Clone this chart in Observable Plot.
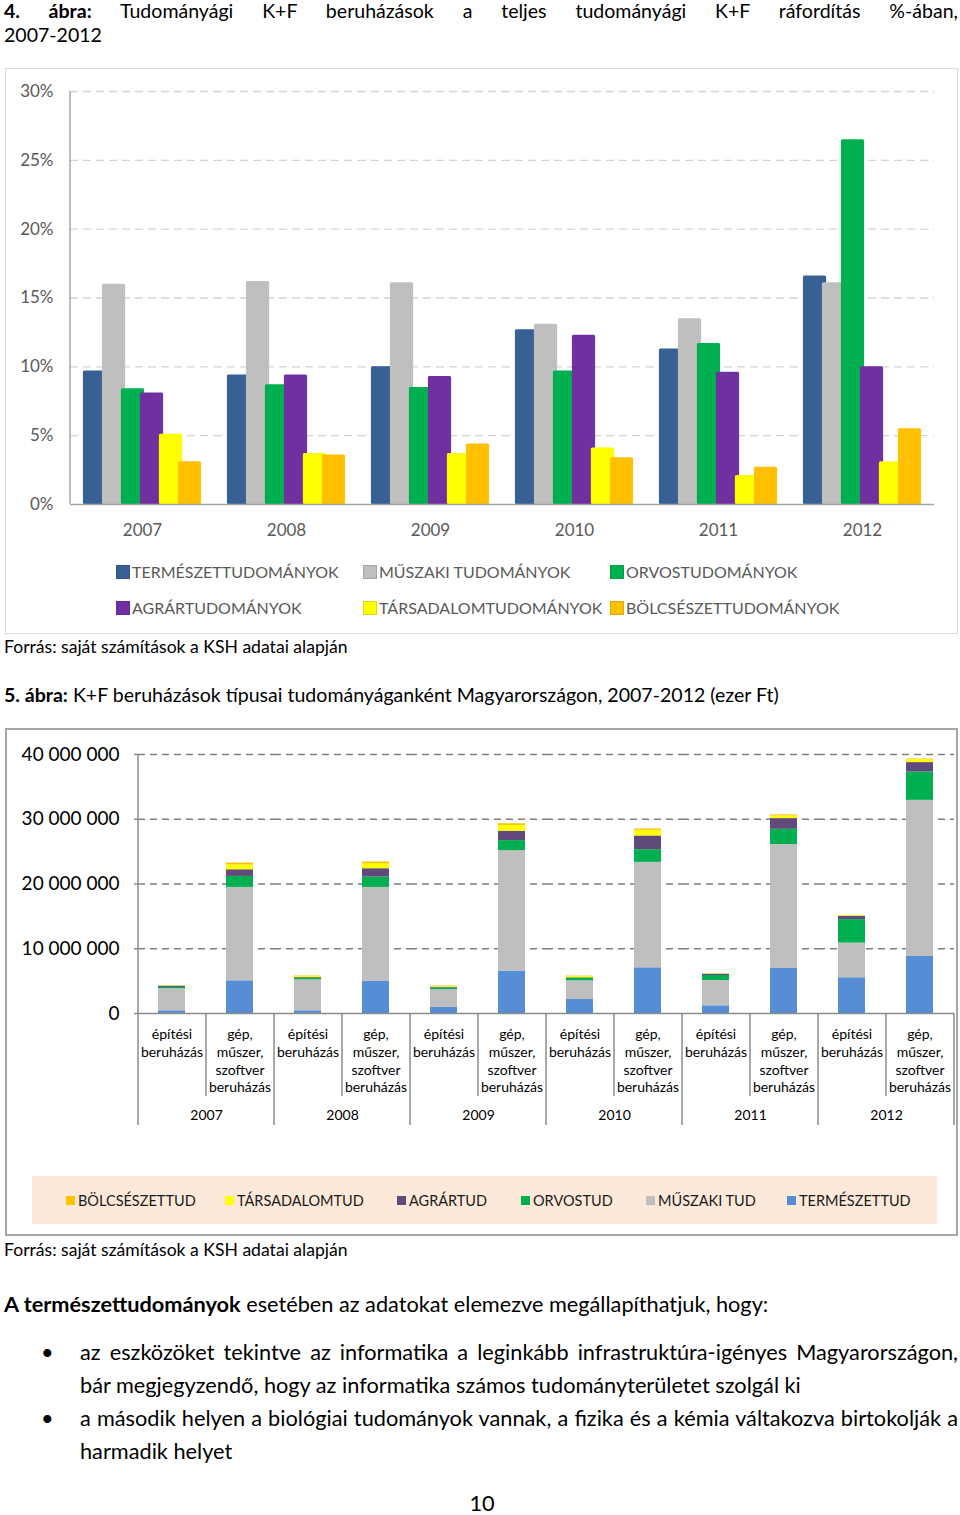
<!DOCTYPE html>
<html><head><meta charset="utf-8">
<script src="https://cdn.jsdelivr.net/npm/d3@7"></script>
<script src="https://cdn.jsdelivr.net/npm/@observablehq/plot@0.6"></script>
<style>
body{margin:0;background:#fff;}
#page{position:relative;width:960px;height:1515px;font-family:Lato,"Open Sans",sans-serif;color:#000;overflow:hidden;}
.abs{position:absolute;white-space:nowrap;}
.jl{text-align:justify;text-align-last:justify;white-space:normal;}
.sq{display:inline-block;vertical-align:middle;box-sizing:border-box;}
</style></head>
<body><div id="page"></div>
<script>
// ---------- DATA: chart 4 (percent) ----------
const years = ["2007","2008","2009","2010","2011","2012"];
const fields1 = ["TERMÉSZETTUDOMÁNYOK","MŰSZAKI TUDOMÁNYOK","ORVOSTUDOMÁNYOK","AGRÁRTUDOMÁNYOK","TÁRSADALOMTUDOMÁNYOK","BÖLCSÉSZETTUDOMÁNYOK"];
const colors1 = ["#376095","#bfbfbf","#00b050","#7030a0","#ffff00","#ffc000"];
const pctTermeszet  = [9.7, 9.4, 10.0, 12.7, 11.3, 16.6];
const pctMuszaki    = [16.0, 16.2, 16.1, 13.1, 13.5, 16.1];
const pctOrvos      = [8.4, 8.7, 8.5, 9.7, 11.7, 26.5];
const pctAgrar      = [8.1, 9.4, 9.3, 12.3, 9.6, 10.0];
const pctTarsadalom = [5.1, 3.7, 3.7, 4.1, 2.1, 3.1];
const pctBolcsesz   = [3.1, 3.6, 4.4, 3.4, 2.7, 5.5];
const yTicks1 = [0,5,10,15,20,25,30];

// ---------- DATA: chart 5 (ezer Ft) ----------
const types = ["építési beruházás","gép, műszer, szoftver beruházás"];
const typeLabels = ["építési\nberuházás","gép,\nműszer,\nszoftver\nberuházás"];
const fields2 = ["TERMÉSZETTUD","MŰSZAKI TUD","ORVOSTUD","AGRÁRTUD","TÁRSADALOMTUD","BÖLCSÉSZETTUD"];
const colors2 = ["#558ed5","#bfbfbf","#00b050","#604a7b","#ffff00","#ffc000"];
const legend2Order = ["BÖLCSÉSZETTUD","TÁRSADALOMTUD","AGRÁRTUD","ORVOSTUD","MŰSZAKI TUD","TERMÉSZETTUD"];
// order: 2007 építési, 2007 gép, 2008 építési, 2008 gép, ...
const invTermeszet  = [420000, 5050000, 420000, 4950000, 930000, 6550000, 2160000, 7060000, 1190000, 6960000, 5520000, 8810000];
const invMuszaki    = [3400000, 14420000, 4780000, 14520000, 2770000, 18600000, 2890000, 16280000, 3910000, 19140000, 5350000, 24110000];
const invOrvos      = [200000, 1700000, 250000, 1600000, 250000, 1550000, 420000, 1960000, 770000, 2350000, 3630000, 4380000];
const invAgrar      = [200000, 1030000, 100000, 1290000, 110000, 1450000, 50000, 2120000, 200000, 1650000, 500000, 1450000];
const invTarsadalom = [50000, 750000, 200000, 800000, 150000, 900000, 200000, 880000, 50000, 420000, 100000, 450000];
const invBolcsesz   = [20000, 280000, 60000, 230000, 50000, 250000, 60000, 200000, 20000, 150000, 50000, 100000];
const yTicks2 = [0, 10000000, 20000000, 30000000, 40000000];

// ---------- TEXT ----------
const title1a = "<b>4. ábra:</b> Tudományági K+F beruházások a teljes tudományági K+F ráfordítás %-ában,";
const title1b = "2007-2012";
const title2 = "<b>5. ábra:</b> K+F beruházások típusai tudományáganként Magyarországon, 2007-2012 (ezer Ft)";
const source = "Forrás: saját számítások a KSH adatai alapján";
const para = "<b>A természettudományok</b> esetében az adatokat elemezve megállapíthatjuk, hogy:";
const bullet1a = "az eszközöket tekintve az informatika a leginkább infrastruktúra-igényes Magyarországon,";
const bullet1b = "bár megjegyzendő, hogy az informatika számos tudományterületet szolgál ki";
const bullet2a = "a második helyen a biológiai tudományok vannak, a fizika és a kémia váltakozva birtokolják a";
const bullet2b = "harmadik helyet";
const pageNo = "10";

// ---------- helpers ----------
const page = document.getElementById("page");
function measure(html, size){
  const s=document.createElement("span");
  s.style.cssText=`position:absolute;visibility:hidden;white-space:nowrap;font-family:Lato;font-size:${size}px`;
  s.innerHTML=html; document.body.appendChild(s);
  const w=s.getBoundingClientRect().width; s.remove(); return w;
}
function addText(html, o){
  const d=document.createElement("div");
  d.className="abs"+(o.justify?" jl":"");
  const lh=o.lh||Math.round(o.size*1.3);
  d.style.left=o.left+"px"; d.style.top=(o.cy-lh/2)+"px";
  d.style.fontSize=o.size+"px"; d.style.lineHeight=lh+"px";
  if(o.width) d.style.width=o.width+"px";
  if(o.color) d.style.color=o.color;
  if(o.align) d.style.textAlign=o.align;
  d.innerHTML=html; page.appendChild(d); return d;
}
const titleSize = 19*775/measure(title2,19);
const srcSize = 17*344/measure(source,17);
const bodySize = 20*765/measure(para,20);

addText(title1a,{left:4,cy:10,size:titleSize,width:954,justify:true});
addText(title1b,{left:4,cy:34,size:titleSize});

// chart 1 box
const box1=document.createElement("div");
box1.style.cssText="position:absolute;left:5px;top:68px;width:953px;height:566px;box-sizing:border-box;border:1px solid #d9d9d9;";
page.appendChild(box1);

// ---------- chart 1 ----------
const series1=[pctTermeszet,pctMuszaki,pctOrvos,pctAgrar,pctTarsadalom,pctBolcsesz];
const data1=[];
fields1.forEach((f,i)=>years.forEach((y,j)=>data1.push({year:y,field:f,value:series1[i][j]})));
const chart1=Plot.plot({
  width:960,height:480,marginLeft:70,marginRight:26,marginTop:23,marginBottom:44,
  style:{fontFamily:"Lato",background:"transparent",overflow:"visible"},
  fx:{domain:years,padding:0,label:null},
  x:{domain:fields1,paddingInner:0,paddingOuter:0.77,axis:null},
  y:{domain:[0,30],label:null},
  color:{domain:fields1,range:colors1},
  marks:[
    Plot.gridY(yTicks1.slice(1),{stroke:"#d4d4d4",strokeOpacity:1,strokeDasharray:"8,5",strokeWidth:1.3}),
    Plot.axisY(yTicks1,{tickSize:0,tickPadding:17,tickFormat:d=>d+"%",fontSize:17,fill:"#595959",label:null}),
    Plot.barY(data1,{fx:"year",x:"field",y:"value",fill:"field",insetLeft:-2.1,insetRight:-2.1,rx:1.5}),
    Plot.ruleY([0],{stroke:"#a6a6a6",strokeWidth:1.5}),
    Plot.axisFx({anchor:"bottom",tickSize:0,tickPadding:19,fontSize:17,fill:"#595959",label:null})
  ]
});
chart1.style.position="absolute";chart1.style.left="0px";chart1.style.top="68px";
page.appendChild(chart1);
{
  const fxS=chart1.scale("fx"), yS=chart1.scale("y");
  d3.select(chart1).append("line")
    .attr("x1",fxS.apply(years[0])).attr("x2",fxS.apply(years[0]))
    .attr("y1",yS.apply(30)).attr("y2",yS.apply(0))
    .attr("stroke","#a6a6a6").attr("stroke-width",1.5);
}
// legend 1
const leg1cols=[116,363,610], leg1rows=[571,607];
fields1.forEach((f,i)=>{
  const c=colors1[i];
  const border=d3.color(c).darker(0.4).formatHex();
  addText(`<span class="sq" style="width:14px;height:14px;background:${c};border:1px solid ${border};margin-right:2px;margin-top:-2px"></span>${f}`,
    {left:leg1cols[i%3],cy:leg1rows[Math.floor(i/3)],size:16,color:"#595959"});
});
addText(source,{left:4,cy:646,size:srcSize});
addText(title2,{left:4,cy:694,size:titleSize});

// chart 2 box
const box2=document.createElement("div");
box2.style.cssText="position:absolute;left:5px;top:728px;width:953px;height:508px;box-sizing:border-box;border:2px solid #a6a6a6;";
page.appendChild(box2);

// ---------- chart 2 ----------
const series2=[invTermeszet,invMuszaki,invOrvos,invAgrar,invTarsadalom,invBolcsesz];
const data2=[];
fields2.forEach((f,i)=>series2[i].forEach((v,k)=>data2.push({year:years[Math.floor(k/2)],type:types[k%2],field:f,value:v})));
const labels2=[];
years.forEach(y=>types.forEach((t,j)=>labels2.push({year:y,type:t,label:typeLabels[j]})));
const fmt2=d=>d3.format(",")(d).replace(/,/g," ");
const chart2=Plot.plot({
  width:960,height:420,marginLeft:137,marginRight:5,marginTop:26,marginBottom:135,
  style:{fontFamily:"Lato",background:"transparent",overflow:"visible"},
  fx:{domain:years,padding:0,label:null},
  x:{domain:types,paddingInner:0.6,paddingOuter:0.3,axis:null},
  y:{domain:[0,40000000],label:null},
  color:{domain:fields2,range:colors2},
  marks:[
    Plot.gridY(yTicks2.slice(1),{stroke:"#7f7f7f",strokeOpacity:1,strokeDasharray:"7,5",strokeWidth:1.5}),
    Plot.axisY(yTicks2,{tickSize:4,tickPadding:15,tickFormat:fmt2,fontSize:19,fill:"#000",stroke:"#8c8c8c",strokeWidth:1.5,label:null}),
    Plot.barY(data2,{fx:"year",x:"type",y:"value",fill:"field"}),
    Plot.ruleY([0],{stroke:"#8c8c8c",strokeWidth:1.5}),
    Plot.text(labels2,{fx:"year",x:"type",text:"label",frameAnchor:"bottom",lineAnchor:"top",dy:12.5,fontSize:14,lineHeight:1.28,fill:"#000"}),
    Plot.axisFx({anchor:"bottom",tickSize:0,tickPadding:97,fontSize:14,fill:"#000",label:null})
  ]
});
chart2.style.position="absolute";chart2.style.left="0px";chart2.style.top="728px";
page.appendChild(chart2);
{
  const fxS=chart2.scale("fx"), yS=chart2.scale("y");
  const bw=fxS.bandwidth ?? ((fxS.range[1]-fxS.range[0])/years.length);
  const y0=yS.apply(0);
  const g=d3.select(chart2).append("g").attr("stroke","#8c8c8c").attr("stroke-width",1.5);
  g.append("line").attr("x1",fxS.apply(years[0])).attr("x2",fxS.apply(years[0])).attr("y1",yS.apply(40000000)).attr("y2",y0);
  years.forEach(yr=>{
    const x0=fxS.apply(yr);
    g.append("line").attr("x1",x0).attr("x2",x0).attr("y1",y0).attr("y2",y0+112);
    g.append("line").attr("x1",x0+bw/2).attr("x2",x0+bw/2).attr("y1",y0).attr("y2",y0+83);
  });
  const xe=fxS.apply(years[years.length-1])+bw;
  g.append("line").attr("x1",xe).attr("x2",xe).attr("y1",y0).attr("y2",y0+112);
}
// legend 2
const leg2=document.createElement("div");
leg2.style.cssText="position:absolute;left:32px;top:1176px;width:905px;height:48px;background:#fde9d9;";
page.appendChild(leg2);
const leg2x=[66,225,397,521,646,787];
legend2Order.forEach((f,i)=>{
  const c=colors2[fields2.indexOf(f)];
  addText(`<span class="sq" style="width:9px;height:9px;background:${c};margin-right:3px;margin-top:-2px"></span>${f}`,
    {left:leg2x[i],cy:1200,size:14.5,color:"#1a1a1a"});
});
addText(source,{left:4,cy:1249,size:srcSize});

// body text
addText(para,{left:4,cy:1304,size:bodySize});
addText("•",{left:41,cy:1352,size:bodySize});
addText(bullet1a,{left:80,cy:1352,size:bodySize,width:878,justify:true});
addText(bullet1b,{left:80,cy:1385,size:bodySize});
addText("•",{left:41,cy:1418,size:bodySize});
addText(bullet2a,{left:80,cy:1418,size:bodySize,width:878,justify:true});
addText(bullet2b,{left:80,cy:1451,size:bodySize});
addText(pageNo,{left:432,cy:1503,size:bodySize,lh:20,width:100,align:"center"});
</script>
</body></html>
